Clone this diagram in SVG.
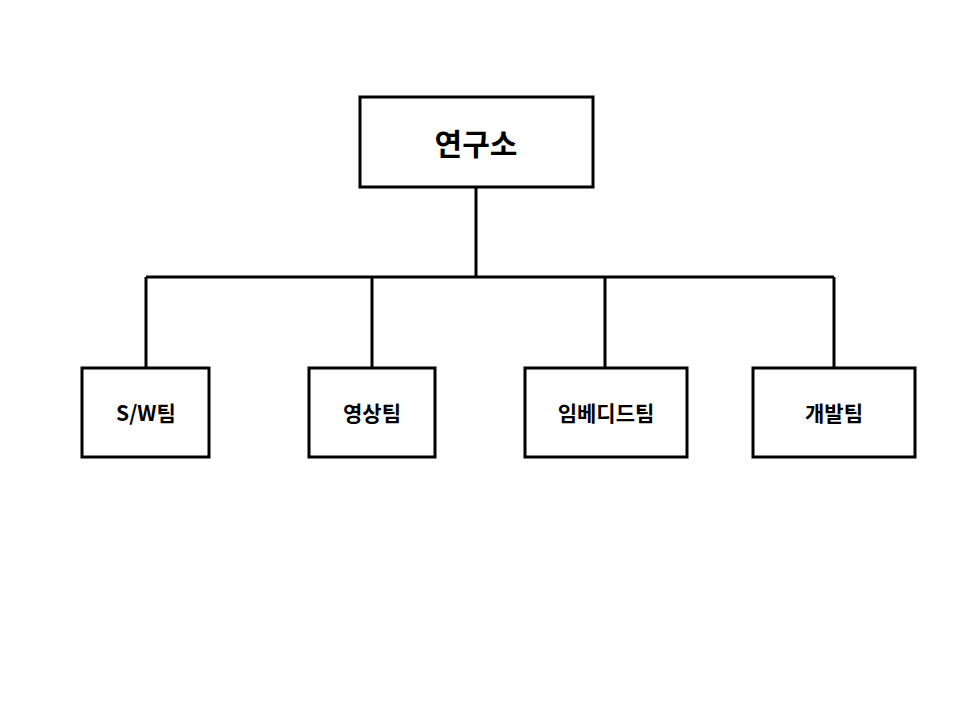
<svg xmlns="http://www.w3.org/2000/svg" width="960" height="720" viewBox="0 0 960 720">
<style>
.box{fill:#fff;stroke:#000;stroke-width:3}
.ln{stroke:#000;stroke-width:3;fill:none}
text{font-family:"Noto Sans CJK KR","Noto Sans",sans-serif;font-weight:bold;text-anchor:middle;fill:#000}
</style>
<rect width="960" height="720" fill="#fff"/>
<g id="connectors">
<path class="ln" d="M476 187V277M146 277H834M146 277V368M372 277V368M605 277V368M834 277V368"/>
</g>
<g id="root"><rect class="box" x="360" y="97" width="233" height="90"/><text x="476" y="155" font-size="30">연구소</text></g>
<g id="sw"><rect class="box" x="82" y="368" width="127" height="89"/><text x="146" y="421" font-size="21">S/W팀</text></g>
<g id="video"><rect class="box" x="309" y="368" width="126" height="89"/><text x="372" y="421" font-size="21">영상팀</text></g>
<g id="embedded"><rect class="box" x="525" y="368" width="162" height="89"/><text x="606" y="421" font-size="21">임베디드팀</text></g>
<g id="dev"><rect class="box" x="753" y="368" width="162" height="89"/><text x="834" y="421" font-size="21">개발팀</text></g>
</svg>
